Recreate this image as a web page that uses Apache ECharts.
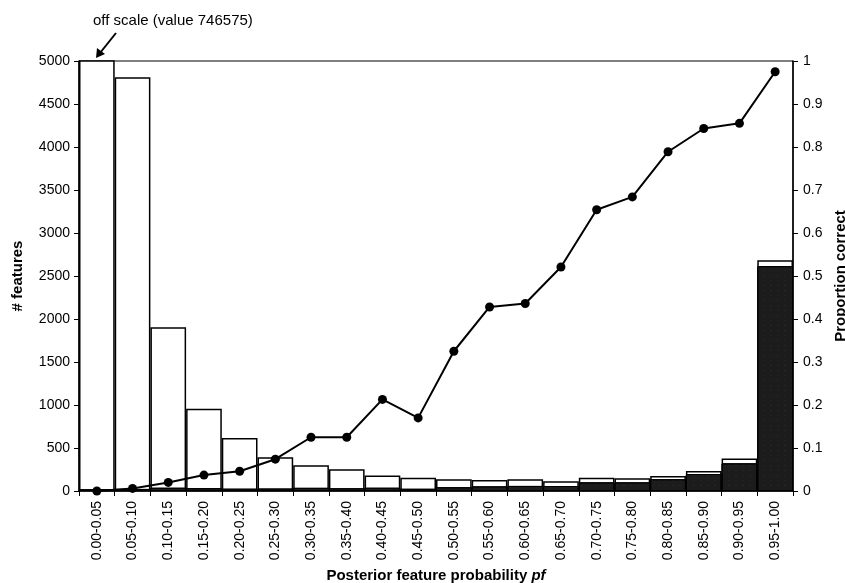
<!DOCTYPE html>
<html>
<head>
<meta charset="utf-8">
<script src="https://cdn.jsdelivr.net/npm/echarts@6/dist/echarts.min.js"></script>
<style>html,body{margin:0;padding:0;background:#fff;}#c{width:845px;height:583px;}</style>
</head>
<body>
<div id="c"></div>
<script>
var categories = ['0.00-0.05','0.05-0.10','0.10-0.15','0.15-0.20','0.20-0.25','0.25-0.30','0.30-0.35','0.35-0.40','0.40-0.45','0.45-0.50','0.50-0.55','0.55-0.60','0.60-0.65','0.65-0.70','0.70-0.75','0.75-0.80','0.80-0.85','0.85-0.90','0.90-0.95','0.95-1.00'];
var totalFeatures = [746575, 4810, 1905, 955, 615, 392, 298, 254, 180, 155, 136, 128, 136, 112, 155, 147, 174, 233, 378, 2683];
var correctFeatures = [20, 24, 38, 33, 27, 29, 37, 32, 38, 26, 44, 54, 59, 58, 101, 101, 137, 197, 322, 2615];
var proportionCorrect = [0.0, 0.006, 0.02, 0.037, 0.046, 0.074, 0.125, 0.125, 0.213, 0.170, 0.325, 0.428, 0.436, 0.521, 0.654, 0.684, 0.789, 0.843, 0.855, 0.975];
var leftTicks = {min: 0, max: 5000, interval: 500};
var rightTicks = {min: 0, max: 1, interval: 0.1};

var FONT = '"Liberation Sans", Arial, Helvetica, sans-serif';
var chart = echarts.init(document.getElementById('c'));
chart.setOption({
  animation: false,
  backgroundColor: '#fff',
  textStyle: {fontFamily: FONT, color: '#000'},
  grid: {left: 79, right: 52, top: 61, bottom: 92, containLabel: false, outerBoundsMode: 'none',
    show: true, borderColor: '#000', borderWidth: 1, backgroundColor: 'transparent'},
  xAxis: {
    type: 'category',
    data: categories,
    boundaryGap: true,
    axisLine: {lineStyle: {color: '#000', width: 1.5}},
    axisTick: {show: true, alignWithLabel: false, length: 5, lineStyle: {color: '#000'}},
    axisLabel: {rotate: 90, interval: 0, fontSize: 14, color: '#000', fontFamily: FONT, margin: 10},
    name: '{b|Posterior feature probability }{i|pf}',
    nameLocation: 'middle',
    nameGap: 76,
    nameTextStyle: {
      rich: {
        b: {fontSize: 15, fontWeight: 'bold', fontFamily: FONT, color: '#000'},
        i: {fontSize: 15, fontWeight: 'bold', fontStyle: 'italic', fontFamily: FONT, color: '#000'}
      }
    }
  },
  yAxis: [{
    type: 'value',
    min: leftTicks.min, max: leftTicks.max, interval: leftTicks.interval,
    axisLine: {show: true, lineStyle: {color: '#000', width: 1.5}},
    axisTick: {show: true, length: 5, lineStyle: {color: '#000'}},
    splitLine: {show: false},
    axisLabel: {fontSize: 14, color: '#000', fontFamily: FONT, margin: 9,
      formatter: function (v) { return String(v); }},
    name: '# features',
    nameLocation: 'middle',
    nameGap: 54,
    nameTextStyle: {fontSize: 15, fontWeight: 'bold', fontFamily: FONT, color: '#000'}
  }, {
    type: 'value',
    min: rightTicks.min, max: rightTicks.max, interval: rightTicks.interval,
    position: 'right',
    axisLine: {show: true, lineStyle: {color: '#000', width: 1.5}},
    axisTick: {show: true, length: 5, lineStyle: {color: '#000'}},
    splitLine: {show: false},
    axisLabel: {fontSize: 14, color: '#000', fontFamily: FONT, margin: 10,
      formatter: function (v) { return String(+v.toFixed(1)); }},
    name: 'Proportion correct',
    nameLocation: 'middle',
    nameGap: 40,
    nameRotate: 90,
    nameTextStyle: {fontSize: 15, fontWeight: 'bold', fontFamily: FONT, color: '#000'}
  }],
  series: [{
    type: 'bar',
    name: 'total',
    data: totalFeatures,
    yAxisIndex: 0,
    barWidth: '100%',
    barGap: '-100%',
    clip: true,
    itemStyle: {color: '#fff', borderColor: '#000', borderWidth: 1.5},
    z: 1
  }, {
    type: 'bar',
    name: 'correct',
    data: correctFeatures,
    yAxisIndex: 0,
    barWidth: '100%',
    barGap: '-100%',
    clip: true,
    itemStyle: {color: '#1c1c1c', borderColor: '#000', borderWidth: 1,
      decal: {symbol: 'rect', symbolSize: 0.3, color: 'rgba(200,200,200,0.35)', dashArrayX: [2, 5], dashArrayY: [1, 4], rotation: 0}},
    z: 2
  }, {
    type: 'line',
    name: 'proportion',
    data: proportionCorrect,
    yAxisIndex: 1,
    symbol: 'circle',
    symbolSize: 9,
    lineStyle: {color: '#000', width: 2},
    itemStyle: {color: '#000'},
    z: 5
  }],
  graphic: [
    {type: 'text', left: 93, top: 13, style: {text: 'off scale (value 746575)', font: '15px ' + FONT, fill: '#000'}},
    {type: 'line', shape: {x1: 116, y1: 33, x2: 100, y2: 53}, style: {stroke: '#000', lineWidth: 2}},
    {type: 'polygon', shape: {points: [[96, 58], [97, 48], [105, 54]]}, style: {fill: '#000'}}
  ]
});
</script>
</body>
</html>
